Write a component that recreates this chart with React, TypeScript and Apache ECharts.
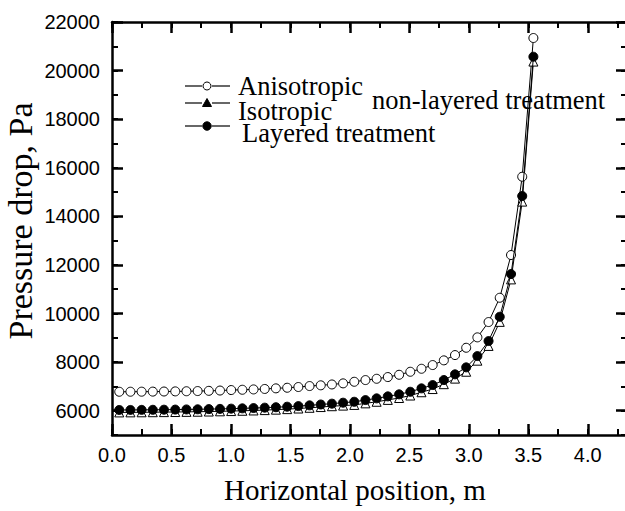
import React, { useEffect, useRef } from "react";
import * as echarts from "echarts";

const positions = [
  0.061, 0.155, 0.249, 0.343, 0.437, 0.532, 0.626, 0.72, 0.814, 0.908,
  1.002, 1.096, 1.19, 1.284, 1.378, 1.473, 1.567, 1.661, 1.755, 1.849,
  1.943, 2.037, 2.131, 2.225, 2.319, 2.414, 2.508, 2.602, 2.696, 2.79,
  2.884, 2.978, 3.072, 3.166, 3.26, 3.355, 3.449, 3.543,
];

const anisotropic = [
  6780, 6781, 6783, 6786, 6790, 6795, 6801, 6809, 6818, 6830,
  6850, 6862, 6876, 6895, 6920, 6945, 6975, 7015, 7045, 7080,
  7125, 7191, 7261, 7314, 7385, 7479, 7603, 7726, 7879, 8072,
  8290, 8591, 9019, 9649, 10649, 12408, 15631, 21341,
];

const isotropic = [
  5930, 5932, 5935, 5938, 5942, 5946, 5952, 5958, 5966, 5975,
  5985, 5997, 6010, 6025, 6043, 6065, 6090, 6120, 6150, 6185,
  6210, 6238, 6303, 6368, 6445, 6523, 6625, 6760, 6891, 7092,
  7321, 7604, 8059, 8667, 9657, 11405, 14607, 20371,
];

const layered = [
  6030, 6032, 6035, 6038, 6042, 6046, 6052, 6058, 6066, 6075,
  6085, 6097, 6110, 6125, 6143, 6165, 6190, 6220, 6255, 6290,
  6330, 6368, 6438, 6508, 6590, 6673, 6780, 6920, 7056, 7262,
  7496, 7784, 8249, 8867, 9867, 11625, 14837, 20571,
];

const xMajorTicks = [0, 0.5, 1.0, 1.5, 2.0, 2.5, 3.0, 3.5, 4.0];
const yMajorTicks = [6000, 8000, 10000, 12000, 14000, 16000, 18000, 20000, 22000];

const X_MIN = 0;
const X_MAX = 4.33;
const Y_MIN = 5000;
const Y_MAX = 22000;

const SERIF = "'Times New Roman', 'Liberation Serif', serif";
const SANS = "Arial, 'Liberation Sans', sans-serif";

function pairs(ys: number[]) {
  return positions.map((x, i) => [x, ys[i]]);
}

export default function App() {
  const ref = useRef<HTMLDivElement>(null);

  useEffect(() => {
    if (!ref.current) return;
    const chart = echarts.init(ref.current, undefined, { renderer: "svg" });

    const lineW = 2.5;
    const baseX = (position: string, show: boolean) => ({
      type: "value",
      position,
      min: X_MIN,
      max: X_MAX,
      interval: 0.25,
      axisLine: { show: true, onZero: false, lineStyle: { color: "#000", width: lineW } },
      axisTick: { show: true, inside: true, length: 6, lineStyle: { color: "#000", width: 2 } },
      axisLabel: {
        show,
        margin: 10,
        color: "#000",
        fontSize: 20,
        fontFamily: SANS,
        formatter: (v: number) =>
          Math.abs(v / 0.5 - Math.round(v / 0.5)) < 1e-6 ? v.toFixed(1) : "",
      },
      splitLine: { show: false },
    });
    const majorX = (position: string) => ({
      type: "value",
      position,
      min: X_MIN,
      max: X_MAX,
      interval: 0.25,
      axisLine: { show: false, onZero: false },
      axisTick: {
        show: true,
        inside: true,
        length: 11,
        customValues: xMajorTicks,
        lineStyle: { color: "#000", width: 2.5 },
      },
      axisLabel: { show: false },
      splitLine: { show: false },
    });
    const baseY = (position: string, show: boolean) => ({
      type: "value",
      position,
      min: Y_MIN,
      max: Y_MAX,
      interval: 1000,
      axisLine: { show: true, onZero: false, lineStyle: { color: "#000", width: lineW } },
      axisTick: { show: true, inside: true, length: 6, lineStyle: { color: "#000", width: 2 } },
      axisLabel: {
        show,
        margin: 12,
        color: "#000",
        fontSize: 20,
        fontFamily: SANS,
        formatter: (v: number) => (v >= 6000 && v % 2000 === 0 ? String(v) : ""),
      },
      splitLine: { show: false },
    });
    const majorY = (position: string) => ({
      type: "value",
      position,
      min: Y_MIN,
      max: Y_MAX,
      interval: 1000,
      axisLine: { show: false, onZero: false },
      axisTick: {
        show: true,
        inside: true,
        length: 11,
        customValues: yMajorTicks,
        lineStyle: { color: "#000", width: 2.5 },
      },
      axisLabel: { show: false },
      splitLine: { show: false },
    });

    const lgX1 = 185;
    const lgX2 = 230;
    const lgC = 207;
    const legendRows = [
      { y: 86, name: "Anisotropic", ty: 85.5, tx: 238 },
      { y: 103, name: "Isotropic", ty: 111, tx: 238 },
      { y: 126, name: "Layered treatment", ty: 133, tx: 242 },
    ];

    const graphic: any[] = [];
    legendRows.forEach((r) => {
      graphic.push({
        type: "line",
        shape: { x1: lgX1, y1: r.y, x2: lgC - 5, y2: r.y },
        style: { stroke: "#000", lineWidth: 1.2 },
      });
      graphic.push({
        type: "line",
        shape: { x1: lgC + 5, y1: r.y, x2: lgX2, y2: r.y },
        style: { stroke: "#000", lineWidth: 1.2 },
      });
      graphic.push({
        type: "text",
        x: r.tx,
        y: r.ty,
        style: {
          text: r.name,
          fill: "#000",
          font: `26.5px ${SERIF}`,
          textAlign: "left",
          textVerticalAlign: "middle",
        },
      });
    });
    graphic.push({
      type: "circle",
      shape: { cx: lgC, cy: legendRows[0].y, r: 4 },
      style: { fill: "#fff", stroke: "#000", lineWidth: 1 },
    });
    graphic.push({
      type: "polygon",
      shape: {
        points: [
          [lgC, legendRows[1].y - 4.5],
          [lgC - 4.5, legendRows[1].y + 3.5],
          [lgC + 4.5, legendRows[1].y + 3.5],
        ],
      },
      style: { fill: "#000", stroke: "#000", lineWidth: 1 },
    });
    graphic.push({
      type: "circle",
      shape: { cx: lgC, cy: legendRows[2].y, r: 4.2 },
      style: { fill: "#000", stroke: "#000", lineWidth: 1 },
    });
    graphic.push({
      type: "text",
      x: 372,
      y: 99.5,
      style: {
        text: "non-layered treatment",
        fill: "#000",
        font: `26.5px ${SERIF}`,
        textAlign: "left",
        textVerticalAlign: "middle",
      },
    });
    graphic.push({
      type: "text",
      x: 355,
      y: 490,
      style: {
        text: "Horizontal position, m",
        fill: "#000",
        font: `29px ${SERIF}`,
        textAlign: "center",
        textVerticalAlign: "middle",
      },
    });
    graphic.push({
      type: "text",
      x: 20,
      y: 221,
      rotation: Math.PI / 2,
      style: {
        text: "Pressure drop, Pa",
        fill: "#000",
        font: `34px ${SERIF}`,
        textAlign: "center",
        textVerticalAlign: "middle",
      },
    });

    const option: any = {
      animation: false,
      backgroundColor: "#fff",
      grid: {
        left: 112,
        right: -2,
        top: 22,
        bottom: 76,
        containLabel: false,
        outerBoundsMode: "none",
      },
      xAxis: [baseX("bottom", true), majorX("bottom"), baseX("top", false), majorX("top")],
      yAxis: [baseY("left", true), majorY("left"), baseY("right", false), majorY("right")],
      graphic,
      series: [
        {
          name: "Anisotropic",
          type: "line",
          data: pairs(anisotropic),
          symbol: "circle",
          symbolSize: 9,
          lineStyle: { color: "#000", width: 1 },
          itemStyle: { color: "#fff", borderColor: "#000", borderWidth: 1 },
          z: 3,
        },
        {
          name: "Isotropic",
          type: "line",
          data: pairs(isotropic),
          symbol: "triangle",
          symbolSize: 9,
          lineStyle: { color: "#000", width: 1 },
          itemStyle: { color: "#fff", borderColor: "#000", borderWidth: 1 },
          z: 3,
        },
        {
          name: "Layered treatment",
          type: "line",
          data: pairs(layered),
          symbol: "circle",
          symbolSize: 9,
          lineStyle: { color: "#000", width: 1 },
          itemStyle: { color: "#000", borderColor: "#000", borderWidth: 1 },
          z: 4,
        },
      ],
    };
    chart.setOption(option);
    return () => chart.dispose();
  }, []);

  return (
    <div
      ref={ref}
      style={{ position: "fixed", left: 0, top: 0, width: 625, height: 511, background: "#fff" }}
    />
  );
}
